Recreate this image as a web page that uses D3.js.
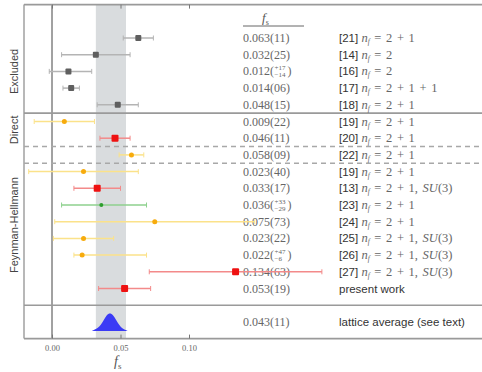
<!DOCTYPE html>
<html>
<head>
<meta charset="utf-8">
<script src="https://cdn.jsdelivr.net/npm/d3@7"></script>
<style>
  html, body { margin: 0; padding: 0; background: #fff; }
  svg { display: block; }
</style>
</head>
<body>
<svg id="chart" width="482" height="372"></svg>
<script>
// Strangeness sigma term f_s: lattice determinations
const values  = [0.063, 0.032, 0.012, 0.014, 0.048, 0.009, 0.046, 0.058, 0.023, 0.033, 0.036, 0.075, 0.023, 0.022, 0.134, 0.053];
const errLow  = [0.011, 0.025, 0.014, 0.006, 0.015, 0.022, 0.011, 0.009, 0.040, 0.017, 0.029, 0.073, 0.022, 0.006, 0.063, 0.019];
const errHigh = [0.011, 0.025, 0.017, 0.006, 0.015, 0.022, 0.011, 0.009, 0.040, 0.017, 0.033, 0.073, 0.022, 0.047, 0.063, 0.019];
const kinds   = ["excl", "excl", "excl", "excl", "excl", "orange", "red", "orange", "orange", "red", "green", "orange", "orange", "orange", "red", "red"];
const valueMain = ["0.063", "0.032", "0.012", "0.014", "0.048", "0.009", "0.046", "0.058", "0.023", "0.033", "0.036", "0.075", "0.023", "0.022", "0.134", "0.053"];
const valueErr  = ["11", "25", null, "06", "15", "22", "11", "09", "40", "17", null, "73", "22", null, "63", "19"];
const asymErr   = { 2: ["+17", "\u221214"], 10: ["+33", "\u221229"], 13: ["+47", "\u22126"] };
const refs    = ["[21]", "[14]", "[16]", "[17]", "[18]", "[19]", "[20]", "[22]", "[19]", "[13]", "[23]", "[24]", "[25]", "[26]", "[27]", null];
const flavors = ["2 + 1", "2", "2", "2 + 1 + 1", "2 + 1", "2 + 1", "2 + 1", "2 + 1", "2 + 1", "2 + 1", "2 + 1", "2 + 1", "2 + 1", "2 + 1", "2 + 1", null];
const su3     = [false, false, false, false, false, false, false, false, false, true, false, false, true, true, true, false];

// Lattice average and its distribution profile
const avgValue = 0.043, avgErr = 0.011, avgLabel = ["0.043", "11"];
const distF = [0.0290, 0.0312, 0.0334, 0.0356, 0.0378, 0.0400, 0.0423, 0.0445, 0.0467, 0.0489, 0.0511, 0.0533, 0.0552];
const distH = [0.00, 0.08, 0.16, 0.32, 0.60, 0.90, 1.00, 0.90, 0.62, 0.34, 0.15, 0.06, 0.00];

const xTicks = [0.00, 0.05, 0.10];
const xTickLabels = ["0.00", "0.05", "0.10"];
const groups = ["Excluded", "Direct", "Feynman-Hellmann"];
const groupCenters = [2.0, 5.5, 11.2];

const svg = d3.select("#chart");
const x = d3.scaleLinear().domain([0, 0.10]).range([52, 189]);
const y = d3.scaleLinear().domain([-2, 18]).range([4.6, 338.6]);
const frameLeft = 24, frameRight = 490;

const palette = {
  excl:   { mark: "#5f5f5f", bar: "#b4b4b4", shape: "square", size: 6 },
  orange: { mark: "#f7ab0c", bar: "#fbe28a", shape: "circle", size: 5 },
  red:    { mark: "#ee1111", bar: "#f38a8a", shape: "square", size: 7 },
  green:  { mark: "#2e9e2e", bar: "#8ed18e", shape: "circle", size: 4 }
};

// shaded band of the lattice average
svg.append("rect")
  .attr("x", x(avgValue - avgErr)).attr("width", x(avgValue + avgErr) - x(avgValue - avgErr))
  .attr("y", y(-2)).attr("height", y(18) - y(-2))
  .attr("fill", "#d9dcde");

// zero line
svg.append("line")
  .attr("x1", x(0)).attr("x2", x(0)).attr("y1", y(-2)).attr("y2", y(18))
  .attr("stroke", "#444").attr("stroke-width", 1);

// frame and separators
const gray = "#9a9a9a";
svg.append("line").attr("x1", frameLeft).attr("x2", frameLeft).attr("y1", y(-2)).attr("y2", y(18))
  .attr("stroke", gray).attr("stroke-width", 1.4);
[-2, 4.5, 16, 18].forEach(k => {
  svg.append("line").attr("x1", frameLeft).attr("x2", frameRight).attr("y1", y(k)).attr("y2", y(k))
    .attr("stroke", gray).attr("stroke-width", 1.6);
});
[6.5, 7.5].forEach(k => {
  svg.append("line").attr("x1", frameLeft).attr("x2", frameRight).attr("y1", y(k)).attr("y2", y(k))
    .attr("stroke", "#a8a8a8").attr("stroke-width", 1.4).attr("stroke-dasharray", "5,4");
});

// axes: ticks inward on bottom and top
const bottomAxis = d3.axisBottom(x).tickValues(xTicks).tickFormat((d, i) => xTickLabels[i]).tickSizeInner(-4).tickSizeOuter(0).tickPadding(6);
const gB = svg.append("g").attr("transform", `translate(0,${y(18)})`).call(bottomAxis);
gB.select(".domain").remove();
gB.selectAll(".tick line").attr("stroke", "#777");
gB.selectAll(".tick text").attr("font-family", "Liberation Serif, DejaVu Serif, serif").attr("font-size", 8.5).attr("fill", "#666");
const topAxis = d3.axisTop(x).tickValues(xTicks).tickFormat("").tickSizeInner(-4).tickSizeOuter(0);
const gT = svg.append("g").attr("transform", `translate(0,${y(-2)})`).call(topAxis);
gT.select(".domain").remove();
gT.selectAll(".tick line").attr("stroke", "#777");

// axis title f_s
const axTitle = svg.append("text").attr("x", 114).attr("y", 366)
  .attr("font-family", "Liberation Serif, DejaVu Serif, serif").attr("font-size", 14).attr("fill", "#555");
axTitle.append("tspan").attr("font-style", "italic").text("f");
axTitle.append("tspan").attr("font-size", 9).attr("dy", 3).text("s");

// group labels
groups.forEach((g, i) => {
  svg.append("text")
    .attr("transform", `translate(18,${y(groupCenters[i])}) rotate(-90)`)
    .attr("text-anchor", "middle")
    .attr("font-family", "Liberation Sans, Arial, sans-serif").attr("font-size", 11).attr("fill", "#444")
    .text(g);
});

// column header
const head = svg.append("text").attr("x", 262).attr("y", 22)
  .attr("font-family", "Liberation Serif, DejaVu Serif, serif").attr("font-size", 13).attr("fill", "#555");
head.append("tspan").attr("font-style", "italic").text("f");
head.append("tspan").attr("font-size", 8).attr("dy", 3).text("s");
svg.append("line").attr("x1", 243).attr("x2", 304).attr("y1", 26).attr("y2", 26)
  .attr("stroke", "#666").attr("stroke-width", 1);

const serif = "Liberation Serif, DejaVu Serif, serif";
const sans = "Liberation Sans, Arial, sans-serif";

function valueText(k, main, err, asym) {
  const t = svg.append("text").attr("x", 243).attr("y", y(k) + 4)
    .attr("font-family", serif).attr("font-size", 12).attr("fill", "#666");
  if (asym) {
    t.append("tspan").text(main + "(");
    const xs = 243 + main.length * 6 - 2.5 + 4;
    svg.append("text").attr("x", xs).attr("y", y(k) - 1).attr("font-family", serif).attr("font-size", 7).attr("fill", "#666").text(asym[0]);
    svg.append("text").attr("x", xs).attr("y", y(k) + 6).attr("font-family", serif).attr("font-size", 7).attr("fill", "#666").text(asym[1]);
    svg.append("text").attr("x", xs + 13).attr("y", y(k) + 4).attr("font-family", serif).attr("font-size", 12).attr("fill", "#666").text(")");
  } else {
    t.text(main + "(" + err + ")");
  }
}

// value and reference columns
values.forEach((v, i) => {
  valueText(i, valueMain[i], valueErr[i], asymErr[i]);
  const r = svg.append("text").attr("x", 339).attr("y", y(i) + 4)
    .attr("font-family", sans).attr("font-size", 11.5).attr("fill", "#333");
  if (refs[i] === null) { r.text("present work"); return; }
  r.append("tspan").text(refs[i] + " ");
  r.append("tspan").attr("font-family", serif).attr("font-style", "italic").attr("fill", "#666").attr("font-size", 12.5).text("n");
  r.append("tspan").attr("font-family", serif).attr("font-style", "italic").attr("fill", "#666").attr("font-size", 7.5).attr("dy", 2).text("f");
  r.append("tspan").attr("font-family", serif).attr("fill", "#666").attr("font-size", 12.5).attr("dy", -2)
    .attr("word-spacing", 1.5).text(" = " + flavors[i] + (su3[i] ? ", " : ""));
  if (su3[i]) {
    r.append("tspan").attr("font-family", serif).attr("font-style", "italic").attr("fill", "#666").attr("font-size", 12.5).text(" SU");
    r.append("tspan").attr("font-family", serif).attr("fill", "#666").attr("font-size", 12.5).text("(3)");
  }
});

// lattice average row text
valueText(17, avgLabel[0], avgLabel[1], null);
svg.append("text").attr("x", 339).attr("y", y(17) + 4)
  .attr("font-family", sans).attr("font-size", 11.5).attr("fill", "#333").text("lattice average (see text)");

// error bars with caps, then markers
const rows = values.map((v, i) => ({ v, lo: v - errLow[i], hi: v + errHigh[i], k: i, s: palette[kinds[i]] }));
const eb = svg.append("g");
rows.forEach(d => {
  const g = eb.append("g").attr("stroke", d.s.bar).attr("stroke-width", 1.5);
  g.append("line").attr("x1", x(d.lo)).attr("x2", x(d.hi)).attr("y1", y(d.k)).attr("y2", y(d.k));
  [d.lo, d.hi].forEach(e => g.append("line").attr("x1", x(e)).attr("x2", x(e)).attr("y1", y(d.k) - 2.5).attr("y2", y(d.k) + 2.5).attr("stroke-width", 1));
});
rows.forEach(d => {
  if (d.s.shape === "square") {
    svg.append("rect").attr("x", x(d.v) - d.s.size / 2).attr("y", y(d.k) - d.s.size / 2)
      .attr("width", d.s.size).attr("height", d.s.size).attr("rx", 1).attr("fill", d.s.mark);
  } else {
    svg.append("circle").attr("cx", x(d.v)).attr("cy", y(d.k)).attr("r", d.s.size / 2).attr("fill", d.s.mark);
  }
});

// distribution of the lattice average
const base = y(17) + 9, peak = 18;
const area = d3.area().x((d, i) => x(distF[i])).y0(base).y1((d, i) => base - distH[i] * peak).curve(d3.curveBasis);
svg.append("path").datum(distF).attr("d", area).attr("fill", "#3b3bf5");
</script>
</body>
</html>
